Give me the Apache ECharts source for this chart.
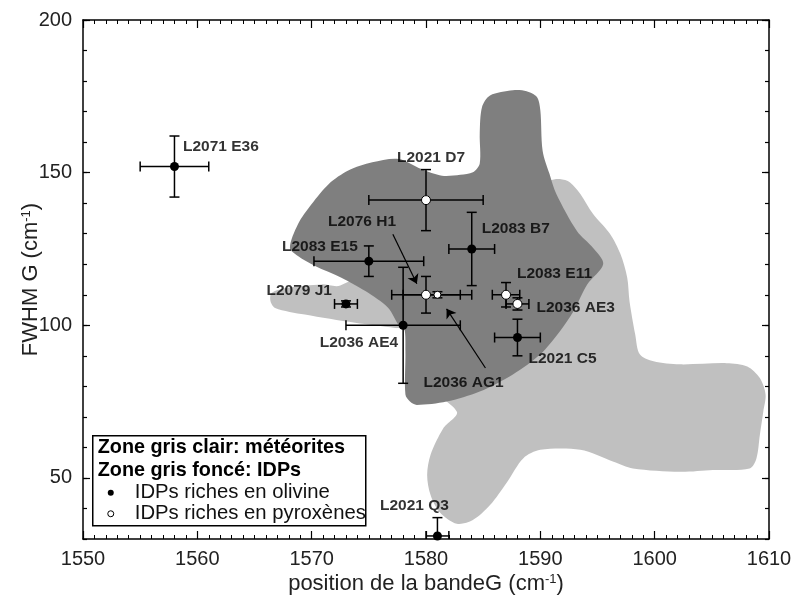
<!DOCTYPE html>
<html><head><meta charset="utf-8">
<script src="https://cdn.jsdelivr.net/npm/echarts@6/dist/echarts.min.js"></script>
<style>html,body{margin:0;padding:0;background:#fff}#c{width:792px;height:597px}</style>
</head><body><div id="c"></div>
<script>
// ---- data ----
const names  = ['L2071 E36','L2021 D7','L2076 H1','L2083 E15','L2083 B7','L2079 J1','L2083 E11','L2036 AE3','L2036 AE4','L2021 C5','L2036 AG1','L2021 Q3'];
const posG   = [1558, 1580, 1580, 1575, 1584, 1573, 1587, 1588, 1578, 1588, 1581, 1581];
const fwhmG  = [152, 141, 110, 121, 125, 107, 110, 107, 100, 96, 110, 31];
const posErr = [3, 5, 3, 4.8, 2, 1, 1.2, 1, 5, 2, 3, 1];
const fwhmErr= [10, 10, 6, 5, 12, 1, 4, 2, 19, 6, 1, 6];
const mineral= ['olivine','pyroxene','pyroxene','olivine','olivine','olivine','pyroxene','pyroxene','olivine','olivine','pyroxene','olivine'];

// meteorite zone (light grey) outline
const meteorX = [1566.5,1566.4,1566.8,1569.4,1573.8,1577.3,1578.1,1579.0,1579.5,1582.7,1581.5,1580.4,1580.1,1580.4,1581.2,1582.7,1584.1,1585.6,1587.1,1588.5,1590.0,1593.5,1596.4,1598.1,1602.2,1605.1,1608.3,1608.9,1609.2,1609.5,1609.7,1609.2,1608.1,1606.3,1602.2,1599.9,1598.7,1598.3,1597.8,1597.6,1597.0,1596.1,1594.6,1593.5,1592.6,1591.7,1590.8,1586.5,1577.7,1572.5,1570.9,1567.9];
const meteorY = [110.6,107.9,105.7,103.5,100.8,99.1,98.5,90.0,81.6,71.7,66.2,57.6,51.0,44.4,38.8,35.0,36.2,41.1,48.7,56.4,59.2,59.2,55.3,53.1,52.0,52.6,53.1,56.4,64.1,71.7,77.3,82.7,86.5,87.6,87.2,88.2,90.5,97.0,107.9,115.6,123.4,129.9,136.5,143.0,146.8,147.9,147.4,140.8,124.3,113.0,113.4,112.3];
// IDP zone (dark grey) outline
const idpX = [1577.6,1575.3,1573.2,1571.5,1570.0,1568.8,1568.1,1568.8,1570.3,1572.6,1574.7,1576.7,1577.6,1578.1,1578.2,1578.2,1578.6,1579.2,1581.8,1584.7,1587.6,1590.0,1591.7,1592.9,1594.1,1595.5,1594.6,1593.2,1591.4,1590.8,1590.2,1590.0,1589.7,1588.8,1587.6,1585.6,1584.9,1584.7,1584.7,1584.1,1583.0,1581.4,1579.6];
const idpY = [154.5,153.4,150.7,146.3,139.7,133.1,125.4,122.7,119.4,115.6,111.2,105.7,100.2,99.0,91.4,77.3,75.0,73.9,75.0,78.3,83.9,90.5,98.0,104.6,113.4,120.1,125.4,130.9,143.0,149.6,157.2,170.4,174.8,176.7,177.0,175.3,171.5,162.8,153.0,150.1,149.3,149.0,151.2];

// arrows (label -> point), data units
const arrowFrom = [[1577.1, 129.8], [1585.2, 86.0]];
const arrowTo   = [[1579.2, 113.6], [1581.8, 105.4]];

// ---- layout for labels (pixel offsets from the point) ----
const labelDx    = [8.5, 5, -98, -11, 10, -14, 11, 19, -5, 11, -14, -57.5];
const labelDy    = [-20, -42.5, -73.5, -14.5, -20, -13, -21, 3.5, 17, 21, 88, -30];
const labelAlign = ['left','center','left','right','left','right','left','left','right','left','left','left'];

const FONT = 'Liberation Sans, Arial, sans-serif';
const chart = echarts.init(document.getElementById('c'));

function zone(xs, ys, color) {
  return {
    type: 'custom', coordinateSystem: 'cartesian2d', clip: true, silent: true,
    data: [[xs[0], ys[0]]],
    renderItem: function (params, api) {
      const pts = xs.map((x, i) => api.coord([x, ys[i]]));
      return { type: 'polygon', shape: { points: pts, smooth: 0.3 }, style: { fill: color } };
    }
  };
}

const errData = posG.map((x, i) => [x, fwhmG[i], posErr[i], fwhmErr[i]]);
function renderErr(params, api) {
  const x = api.value(0), y = api.value(1), ex = api.value(2), ey = api.value(3);
  const c = api.coord([x, y]);
  const l = api.coord([x - ex, y]), r = api.coord([x + ex, y]);
  const t = api.coord([x, y + ey]), b = api.coord([x, y - ey]);
  const cap = 5;
  const st = { stroke: '#000', lineWidth: 1.5 };
  return { type: 'group', children: [
    { type: 'line', shape: { x1: l[0], y1: c[1], x2: r[0], y2: c[1] }, style: st },
    { type: 'line', shape: { x1: l[0], y1: c[1] - cap, x2: l[0], y2: c[1] + cap }, style: st },
    { type: 'line', shape: { x1: r[0], y1: c[1] - cap, x2: r[0], y2: c[1] + cap }, style: st },
    { type: 'line', shape: { x1: c[0], y1: t[1], x2: c[0], y2: b[1] }, style: st },
    { type: 'line', shape: { x1: c[0] - cap, y1: t[1], x2: c[0] + cap, y2: t[1] }, style: st },
    { type: 'line', shape: { x1: c[0] - cap, y1: b[1], x2: c[0] + cap, y2: b[1] }, style: st }
  ]};
}

const olivPts = [], pyroPts = [];
posG.forEach((x, i) => {
  const item = { value: [x, fwhmG[i]], symbolSize: names[i] === 'L2036 AG1' ? 7 : 9 };
  (mineral[i] === 'olivine' ? olivPts : pyroPts).push(item);
});
const labelPts = posG.map((x, i) => ({
  value: [x, fwhmG[i]],
  label: { show: true, formatter: names[i], position: 'inside', align: labelAlign[i], verticalAlign: 'middle', offset: [labelDx[i], labelDy[i]] }
}));

const tickStyle = { color: '#000', width: 1.2 };
const axisLineStyle = { color: '#000', width: 1.5 };
const nameStyle = { fontSize: 22, color: '#222', fontFamily: FONT, rich: { sup: { fontSize: 13, verticalAlign: 'top', fontFamily: FONT, color: '#222' } } };
function xAx(pos, showLabel) {
  return {
    type: 'value', min: 1550, max: 1610, interval: 10, position: pos,
    axisLine: { show: true, onZero: false, lineStyle: axisLineStyle },
    axisTick: { show: true, inside: true, length: 8, lineStyle: tickStyle },
    minorTick: { show: true, splitNumber: 10, length: 4, lineStyle: { color: '#000', width: 1 } },
    splitLine: { show: false }, minorSplitLine: { show: false },
    axisLabel: { show: showLabel, fontSize: 20, color: '#222', fontFamily: FONT, margin: 10, formatter: v => String(v) },
    name: showLabel ? 'position de la bandeG (cm{sup|-1})' : '',
    nameLocation: 'middle', nameGap: 34, nameMoveOverlap: false,
    nameTextStyle: nameStyle
  };
}
function yAxMajor(pos, showLabel) {
  return {
    type: 'value', min: 30, max: 200, interval: 10, position: pos,
    axisLine: { show: true, onZero: false, lineStyle: axisLineStyle },
    axisTick: { show: true, inside: true, length: 7, lineStyle: tickStyle, customValues: [50, 100, 150, 200] },
    splitLine: { show: false },
    axisLabel: { show: showLabel, customValues: [50, 100, 150, 200], fontSize: 20, color: '#222', fontFamily: FONT, margin: 11 },
    name: showLabel ? 'FWHM G (cm{sup|-1})' : '',
    nameLocation: 'middle', nameGap: 41, nameMoveOverlap: false,
    nameTextStyle: nameStyle
  };
}
function yAxMinor(pos) {
  return {
    type: 'value', min: 30, max: 200, interval: 10, position: pos,
    axisLine: { show: false },
    axisTick: { show: true, inside: true, length: 4, lineStyle: tickStyle },
    splitLine: { show: false }, axisLabel: { show: false }
  };
}

const legendTop = 435, legendLeft = 92;
chart.setOption({
  animation: false,
  backgroundColor: '#fff',
  grid: { left: 83, right: 23, top: 20, bottom: 58, containLabel: false, outerBoundsMode: 'none' },
  xAxis: [xAx('bottom', true), xAx('top', false)],
  yAxis: [yAxMajor('left', true), yAxMinor('left'), yAxMajor('right', false), yAxMinor('right')],
  series: [
    Object.assign(zone(meteorX, meteorY, '#c0c0c0'), { z: 1 }),
    Object.assign(zone(idpX, idpY, '#7f7f7f'), { z: 2 }),
    { type: 'custom', coordinateSystem: 'cartesian2d', clip: true, z: 3, silent: true,
      data: errData, encode: { x: 0, y: 1 }, renderItem: renderErr },
    { type: 'lines', coordinateSystem: 'cartesian2d', z: 4, silent: true,
      symbol: ['none', 'arrow'], symbolSize: [0, 9],
      lineStyle: { color: '#000', width: 1.2, opacity: 1 },
      data: arrowFrom.map((f, i) => ({ coords: [f, arrowTo[i]] })) },
    { type: 'scatter', z: 5, silent: true, symbol: 'circle', data: olivPts,
      itemStyle: { color: '#000', opacity: 1 } },
    { type: 'scatter', z: 5, silent: true, symbol: 'circle', data: pyroPts,
      itemStyle: { color: '#fff', borderColor: '#000', borderWidth: 1, opacity: 1 } },
    { type: 'scatter', z: 6, silent: true, symbolSize: 0, data: labelPts,
      itemStyle: { color: '#000' },
      label: { fontSize: 15.5, fontWeight: 'bold', color: '#000', fontFamily: FONT, textBorderWidth: 0, textBorderColor: 'transparent' } }
  ],
  graphic: [
    { type: 'group', left: legendLeft, top: legendTop, z: 100, children: [
      { type: 'rect', shape: { x: 0, y: 0, width: 273, height: 90 }, style: { fill: '#fff', stroke: '#000', lineWidth: 1.5 } },
      { type: 'text', x: 5, y: 12, style: { text: 'Zone gris clair: météorites', font: 'bold 19.8px ' + FONT, fill: '#000', verticalAlign: 'middle' } },
      { type: 'text', x: 5, y: 35, style: { text: 'Zone gris foncé: IDPs', font: 'bold 19.8px ' + FONT, fill: '#000', verticalAlign: 'middle' } },
      { type: 'circle', shape: { cx: 18, cy: 57, r: 3 }, style: { fill: '#000' } },
      { type: 'text', x: 42, y: 57, style: { text: 'IDPs riches en olivine', font: '20.3px ' + FONT, fill: '#111', verticalAlign: 'middle' } },
      { type: 'circle', shape: { cx: 18, cy: 78, r: 3 }, style: { fill: '#fff', stroke: '#000', lineWidth: 1 } },
      { type: 'text', x: 42, y: 78, style: { text: 'IDPs riches en pyroxènes', font: '20.3px ' + FONT, fill: '#111', verticalAlign: 'middle' } }
    ] }
  ]
});
</script>
</body></html>
